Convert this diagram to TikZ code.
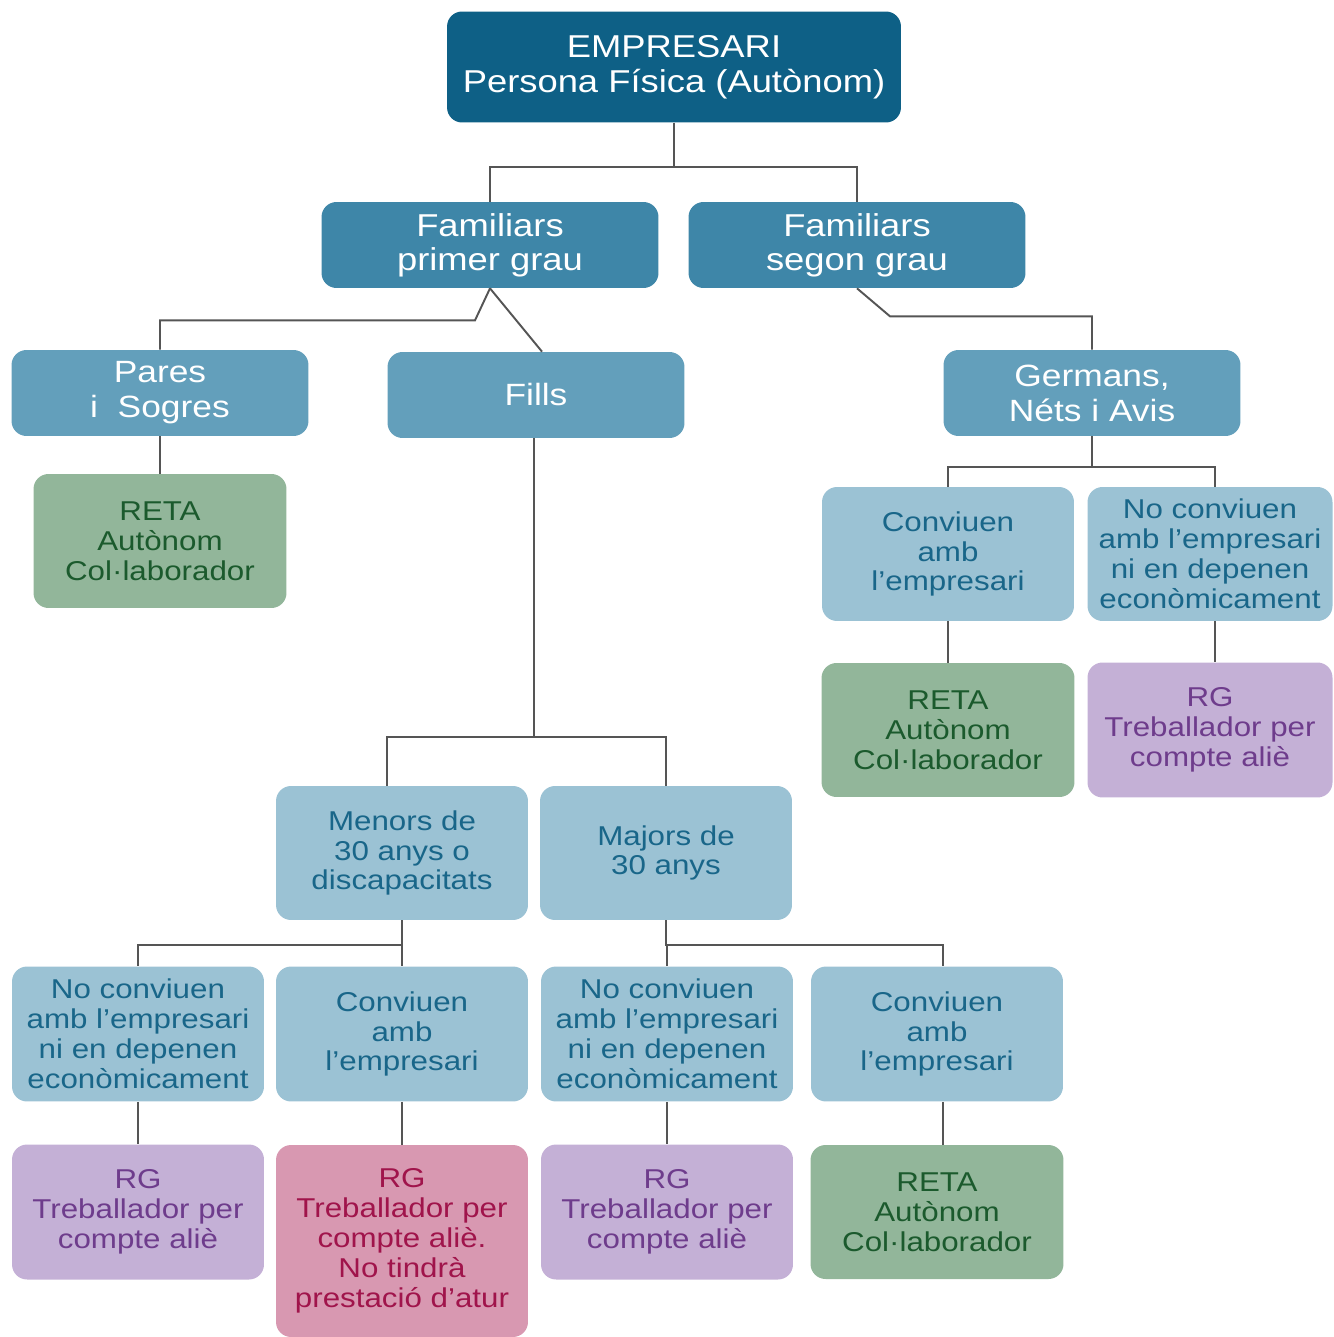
\documentclass[tikz,border=0pt]{standalone}
\usepackage{fontspec}
\setmainfont{Liberation Sans}[FakeStretch=1.15]
\usetikzlibrary{positioning}

\definecolor{empblue}{RGB}{14,96,134}
\definecolor{famblue}{RGB}{62,134,168}
\definecolor{midblue}{RGB}{99,159,187}
\definecolor{paleblue}{RGB}{155,194,212}
\definecolor{paletext}{RGB}{25,102,137}
\definecolor{retafill}{RGB}{146,182,154}
\definecolor{retatext}{RGB}{27,90,45}
\definecolor{rgfill}{RGB}{196,176,214}
\definecolor{rgtext}{RGB}{110,60,140}
\definecolor{pinkfill}{RGB}{216,152,177}
\definecolor{pinktext}{RGB}{160,20,75}
\definecolor{linegray}{RGB}{85,85,85}

\begin{document}
\begin{tikzpicture}[x=0.02cm, y=-0.02cm,
	box/.style={rectangle, rounded corners=0.3cm, align=center, inner sep=0pt},
	topbox/.style={box, fill=empblue, text=white, minimum width=9.08cm, minimum height=2.22cm, font=\fontsize{18}{20}\selectfont},
	fambox/.style={box, fill=famblue, text=white, minimum width=6.74cm, minimum height=1.72cm, font=\fontsize{18}{19.5}\selectfont},
	kinbox/.style={box, fill=midblue, text=white, minimum width=5.94cm, minimum height=1.72cm, font=\fontsize{17.5}{20}\selectfont},
	casebox/.style={box, fill=paleblue, text=paletext, minimum width=5.04cm, minimum height=2.68cm, font=\fontsize{15.5}{17}\selectfont},
	retabox/.style={box, fill=retafill, text=retatext, minimum width=5.06cm, minimum height=2.68cm, font=\fontsize{15.5}{17}\selectfont},
	rgbox/.style={box, fill=rgfill, text=rgtext, minimum width=5.04cm, minimum height=2.7cm, font=\fontsize{15.5}{17}\selectfont},
	pinkbox/.style={box, fill=pinkfill, text=pinktext, minimum width=5.04cm, minimum height=3.84cm, font=\fontsize{15.5}{17}\selectfont},
	link/.style={draw=linegray, line width=1.1pt}]

	\useasboundingbox (0,0) rectangle (1333,1337);

	% top levels
	\node [topbox] (emp) at (674,67) {EMPRESARI\\Persona Física (Autònom)};
	\node [fambox] (fam1) at (490,245) {Familiars\\primer grau};
	\node [fambox] (fam2) at (857,245) {Familiars\\segon grau};

	\node [kinbox] (pares) at (160,393) {Pares\\i\ \ Sogres};
	\node [kinbox] (fills) at (536,395) {Fills};
	\node [kinbox] (germ) at (1092,393) {Germans,\\Néts i Avis};

	% pares
	\node [retabox] (reta1) at (160,541) {RETA\\Autònom\\Col·laborador};

	% germans
	\node [casebox] (convg) at (948,554) {Conviuen\\amb\\l’empresari};
	\node [casebox, minimum width=4.9cm] (noconvg) at (1210,554) {No conviuen\\amb l’empresari\\ni en depenen\\econòmicament};
	\node [retabox] (retag) at (948,730) {RETA\\Autònom\\Col·laborador};
	\node [rgbox, minimum width=4.9cm] (rgg) at (1210,730) {RG\\Treballador per\\compte aliè};

	% fills
	\node [casebox] (menors) at (402,853) {Menors de\\30 anys o\\discapacitats};
	\node [casebox] (majors) at (666,853) {Majors de\\30 anys};

	\node [casebox, minimum height=2.7cm] (nc1) at (138,1034) {No conviuen\\amb l’empresari\\ni en depenen\\econòmicament};
	\node [casebox, minimum height=2.7cm] (c1) at (402,1034) {Conviuen\\amb\\l’empresari};
	\node [casebox, minimum height=2.7cm] (nc2) at (667,1034) {No conviuen\\amb l’empresari\\ni en depenen\\econòmicament};
	\node [casebox, minimum height=2.7cm] (c2) at (937,1034) {Conviuen\\amb\\l’empresari};

	\node [rgbox] (rg1) at (138,1212) {RG\\Treballador per\\compte aliè};
	\node [pinkbox] (rg2) at (402,1241) {RG\\Treballador per\\compte aliè.\\No tindrà\\prestació d’atur};
	\node [rgbox] (rg3) at (667,1212) {RG\\Treballador per\\compte aliè};
	\node [retabox] (reta3) at (937,1212) {RETA\\Autònom\\Col·laborador};

	% connectors
	\draw [link] (emp.south) -- ++(0,44) -| (fam1.north);
	\draw [link] (emp.south) -- ++(0,44) -| (fam2.north);
	\draw [link] (fam1.south) -- ++(-15,32) -| (pares.north);
	\draw [link] (fam1.south) -- ([xshift=0.12cm]fills.north);
	\draw [link] (fam2.south) -- ++(33,28) -| (germ.north);
	\draw [link] (pares) -- (reta1);
	\draw [link] (germ.south) -- ++(0,31) -| (convg.north);
	\draw [link] (germ.south) -- ++(0,31) -| ([xshift=0.1cm]noconvg.north);
	\draw [link] (convg) -- (retag);
	\draw [link] ([xshift=0.1cm]noconvg.south) -- ([xshift=0.1cm]rgg.north);
	\draw [link] ([xshift=-0.04cm]fills.south) -- ++(0,299) -| ([xshift=-0.3cm]menors.north);
	\draw [link] ([xshift=-0.04cm]fills.south) -- ++(0,299) -| (majors.north);
	\draw [link] (menors.south) -- ++(0,25) -| (nc1.north);
	\draw [link] (menors.south) -- ++(0,25) -| (c1.north);
	\draw [link] (majors.south) -- ++(0,25) -| (nc2.north);
	\draw [link] (majors.south) -- ++(0,25) -| ([xshift=0.12cm]c2.north);
	\draw [link] (nc1) -- (rg1);
	\draw [link] (c1) -- (rg2);
	\draw [link] (nc2) -- (rg3);
	\draw [link] ([xshift=0.12cm]c2.south) -- ([xshift=0.12cm]reta3.north);
\end{tikzpicture}
\end{document}
